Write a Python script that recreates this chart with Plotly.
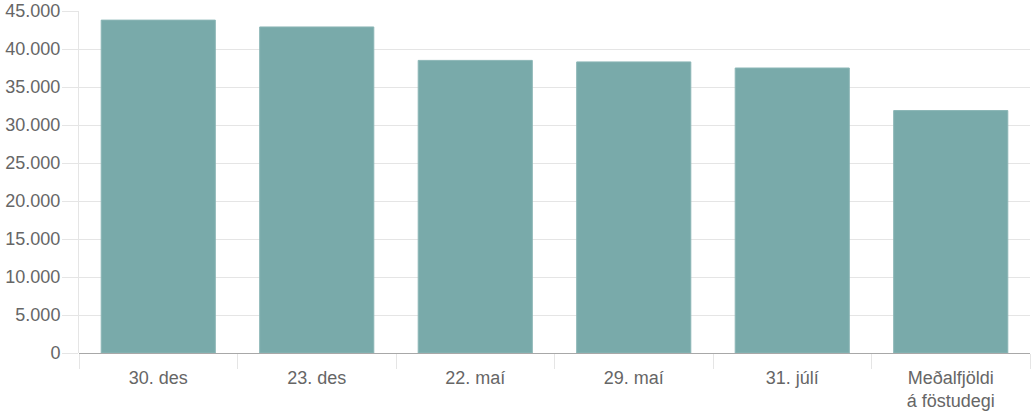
import plotly.graph_objects as go

categories = ["30. des", "23. des", "22. maí", "29. maí", "31. júlí", "Meðalfjöldi<br>á föstudegi"]
values = [43800, 42900, 38500, 38300, 37500, 31900]
y_ticks = [0, 5000, 10000, 15000, 20000, 25000, 30000, 35000, 40000, 45000]

grid = "#e5e5e5"
font_family = "Liberation Sans, Arial, Helvetica, sans-serif"

fig = go.Figure(
    go.Bar(
        x=categories,
        y=values,
        marker=dict(color="#79aaaa", line=dict(color="#8bb6b6", width=1)),
        width=0.72,
        hoverinfo="x+y",
    )
)

fig.update_layout(
    width=1035,
    height=420,
    margin=dict(l=79, r=5, t=11, b=67, autoexpand=False),
    paper_bgcolor="white",
    plot_bgcolor="white",
    separators=",.",
    font=dict(family=font_family, size=18, color="#666666"),
    showlegend=False,
)

fig.update_xaxes(
    type="category",
    showgrid=False,
    tickson="boundaries",
    ticks="outside",
    ticklen=15,
    tickcolor=grid,
    tickwidth=1,
    showline=False,
    automargin=False,
    ticklabelstandoff=12,
    tickfont=dict(size=18, color="#666666"),
)

fig.update_yaxes(
    range=[0, 45000],
    tickvals=y_ticks,
    tickformat=",d",
    showgrid=True,
    gridcolor=grid,
    gridwidth=1,
    ticks="outside",
    ticklen=16,
    tickcolor=grid,
    showline=True,
    linecolor=grid,
    linewidth=1,
    zeroline=True,
    zerolinecolor="#a8a8a8",
    zerolinewidth=1,
    automargin=False,
    ticklabelstandoff=-2,
    tickfont=dict(size=18, color="#666666"),
)

fig.write_html(
    "out.html",
    config={"displayModeBar": False},
    post_script="document.body.style.margin='0';document.body.style.overflow='hidden';",
)
